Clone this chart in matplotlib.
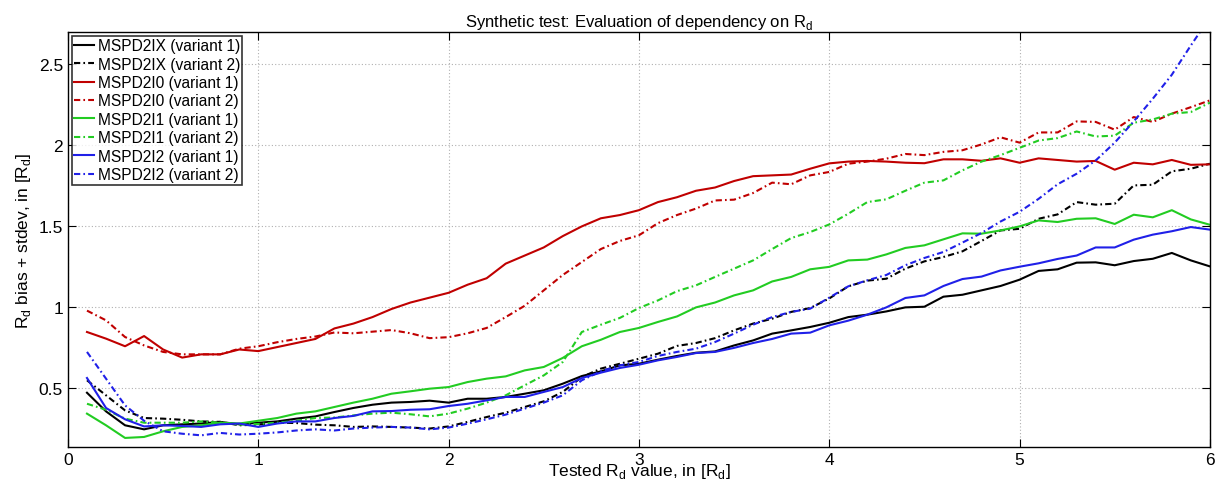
import matplotlib
matplotlib.use("Agg")
import matplotlib.pyplot as plt

plt.rcParams['font.family'] = ['Liberation Sans', 'DejaVu Sans']

# tested Rd values 0.1 .. 6.0
rd = [round(0.1 * i, 1) for i in range(1, 61)]

ix_v1 = [0.473, 0.358, 0.272, 0.247, 0.272, 0.278, 0.283, 0.293, 0.278, 0.288,
         0.296, 0.313, 0.327, 0.354, 0.379, 0.399, 0.412, 0.416, 0.424, 0.412,
         0.436, 0.436, 0.447, 0.467, 0.488, 0.529, 0.576, 0.605, 0.642, 0.652,
         0.677, 0.700, 0.720, 0.728, 0.765, 0.796, 0.838, 0.858, 0.879, 0.905,
         0.940, 0.955, 0.975, 1.000, 1.004, 1.066, 1.078, 1.105, 1.132, 1.171,
         1.225, 1.235, 1.276, 1.278, 1.260, 1.286, 1.300, 1.336, 1.290, 1.253]
ix_v2 = [0.550, 0.457, 0.364, 0.317, 0.313, 0.306, 0.296, 0.293, 0.272, 0.276,
         0.288, 0.286, 0.276, 0.272, 0.262, 0.265, 0.262, 0.258, 0.252, 0.265,
         0.293, 0.323, 0.350, 0.385, 0.420, 0.478, 0.570, 0.622, 0.652, 0.683,
         0.714, 0.762, 0.780, 0.810, 0.858, 0.900, 0.930, 0.972, 0.996, 1.055,
         1.130, 1.165, 1.177, 1.239, 1.284, 1.311, 1.346, 1.410, 1.475, 1.485,
         1.547, 1.574, 1.650, 1.634, 1.640, 1.753, 1.757, 1.840, 1.856, 1.887]
i0_v1 = [0.848, 0.807, 0.760, 0.823, 0.740, 0.690, 0.710, 0.710, 0.740, 0.730,
         0.755, 0.780, 0.805, 0.870, 0.900, 0.940, 0.990, 1.030, 1.060, 1.090,
         1.140, 1.180, 1.270, 1.320, 1.370, 1.440, 1.500, 1.550, 1.570, 1.600,
         1.650, 1.680, 1.720, 1.740, 1.780, 1.810, 1.815, 1.820, 1.856, 1.889,
         1.900, 1.904, 1.900, 1.893, 1.890, 1.914, 1.914, 1.905, 1.920, 1.893,
         1.920, 1.910, 1.900, 1.904, 1.850, 1.893, 1.883, 1.910, 1.880, 1.883]
i0_v2 = [0.980, 0.920, 0.817, 0.765, 0.725, 0.710, 0.710, 0.710, 0.745, 0.760,
         0.785, 0.805, 0.820, 0.845, 0.840, 0.850, 0.860, 0.840, 0.810, 0.816,
         0.840, 0.873, 0.940, 1.010, 1.105, 1.200, 1.280, 1.360, 1.410, 1.445,
         1.520, 1.570, 1.610, 1.660, 1.665, 1.706, 1.770, 1.760, 1.815, 1.836,
         1.887, 1.900, 1.918, 1.947, 1.940, 1.960, 1.970, 2.006, 2.050, 2.017,
         2.080, 2.080, 2.148, 2.145, 2.097, 2.175, 2.145, 2.196, 2.236, 2.278]
i1_v1 = [0.344, 0.272, 0.194, 0.200, 0.235, 0.262, 0.272, 0.288, 0.283, 0.300,
         0.317, 0.344, 0.358, 0.385, 0.412, 0.436, 0.467, 0.482, 0.498, 0.508,
         0.539, 0.560, 0.574, 0.611, 0.632, 0.688, 0.760, 0.800, 0.848, 0.873,
         0.910, 0.944, 1.000, 1.030, 1.074, 1.105, 1.160, 1.188, 1.235, 1.250,
         1.290, 1.295, 1.327, 1.367, 1.383, 1.420, 1.457, 1.455, 1.475, 1.500,
         1.537, 1.527, 1.547, 1.550, 1.515, 1.572, 1.556, 1.600, 1.543, 1.510]
i1_v2 = [0.405, 0.368, 0.313, 0.288, 0.288, 0.288, 0.296, 0.288, 0.276, 0.280,
         0.288, 0.300, 0.317, 0.320, 0.333, 0.344, 0.350, 0.340, 0.327, 0.344,
         0.375, 0.412, 0.457, 0.519, 0.580, 0.663, 0.848, 0.893, 0.935, 0.996,
         1.043, 1.100, 1.136, 1.188, 1.239, 1.290, 1.360, 1.428, 1.465, 1.512,
         1.578, 1.650, 1.667, 1.720, 1.770, 1.784, 1.846, 1.900, 1.940, 1.985,
         2.030, 2.045, 2.086, 2.055, 2.060, 2.140, 2.160, 2.196, 2.206, 2.264]
i2_v1 = [0.564, 0.379, 0.309, 0.265, 0.272, 0.268, 0.262, 0.278, 0.283, 0.262,
         0.283, 0.296, 0.296, 0.317, 0.330, 0.358, 0.360, 0.368, 0.371, 0.391,
         0.405, 0.426, 0.447, 0.447, 0.478, 0.508, 0.564, 0.597, 0.626, 0.646,
         0.673, 0.694, 0.718, 0.725, 0.750, 0.780, 0.805, 0.838, 0.844, 0.889,
         0.918, 0.955, 1.000, 1.058, 1.074, 1.132, 1.175, 1.190, 1.228, 1.251,
         1.272, 1.299, 1.320, 1.370, 1.370, 1.418, 1.449, 1.470, 1.496, 1.480]
i2_v2 = [0.725, 0.560, 0.395, 0.300, 0.235, 0.220, 0.210, 0.225, 0.215, 0.220,
         0.228, 0.240, 0.247, 0.240, 0.252, 0.258, 0.262, 0.258, 0.247, 0.258,
         0.282, 0.309, 0.338, 0.375, 0.412, 0.457, 0.550, 0.605, 0.642, 0.663,
         0.700, 0.725, 0.745, 0.786, 0.838, 0.893, 0.940, 0.972, 0.992, 1.060,
         1.130, 1.167, 1.200, 1.260, 1.305, 1.342, 1.400, 1.459, 1.530, 1.590,
         1.670, 1.760, 1.825, 1.907, 2.017, 2.148, 2.288, 2.436, 2.617, 2.790]

series = [
    ("MSPD2IX (variant 1)", ix_v1, "black", "-"),
    ("MSPD2IX (variant 2)", ix_v2, "black", "-."),
    ("MSPD2I0 (variant 1)", i0_v1, "#c00000", "-"),
    ("MSPD2I0 (variant 2)", i0_v2, "#c00000", "-."),
    ("MSPD2I1 (variant 1)", i1_v1, "#22cc22", "-"),
    ("MSPD2I1 (variant 2)", i1_v2, "#22cc22", "-."),
    ("MSPD2I2 (variant 1)", i2_v1, "#2020e8", "-"),
    ("MSPD2I2 (variant 2)", i2_v2, "#2020e8", "-."),
]

fig = plt.figure(figsize=(12.2, 4.89), dpi=100)
ax = fig.add_axes([0.0557, 0.0845, 0.936, 0.848])

for label, vals, col, ls in series:
    if ls == "-":
        ax.plot(rd, vals, color=col, lw=1.5, label=label)
    else:
        ax.plot(rd, vals, color=col, lw=1.5, label=label,
                linestyle=(0, (3, 1.5, 0.8, 1.5)))

ax.set_xlim(0, 6)
ax.set_ylim(0.14, 2.70)
ax.set_xticks([0, 1, 2, 3, 4, 5, 6])
ax.set_yticks([0.5, 1, 1.5, 2, 2.5])
ax.set_yticklabels(["0.5", "1", "1.5", "2", "2.5"])
ax.grid(True, linestyle=(0, (1, 2)), color="#b0b0b0", lw=0.8)
ax.tick_params(direction="in", top=True, right=True, length=6, labelsize=12.5)
for s in ax.spines.values():
    s.set_linewidth(1.0)

ax.set_title("Synthetic test: Evaluation of dependency on R$_\\mathregular{d}$",
             fontsize=12, pad=4)
ax.set_xlabel("Tested R$_\\mathregular{d}$ value, in [R$_\\mathregular{d}$]",
              fontsize=12.5, labelpad=-4)
ax.set_ylabel("R$_\\mathregular{d}$ bias + stdev, in [R$_\\mathregular{d}$]",
              fontsize=12.5, labelpad=4)

leg = ax.legend(loc="upper left", fontsize=11.2, frameon=True, fancybox=False,
                borderpad=0.15, labelspacing=0.22, handlelength=1.3,
                handletextpad=0.2, borderaxespad=0.25)
leg.get_frame().set_edgecolor("black")
leg.get_frame().set_linewidth(1.2)

fig.savefig("out.png", dpi=100)
